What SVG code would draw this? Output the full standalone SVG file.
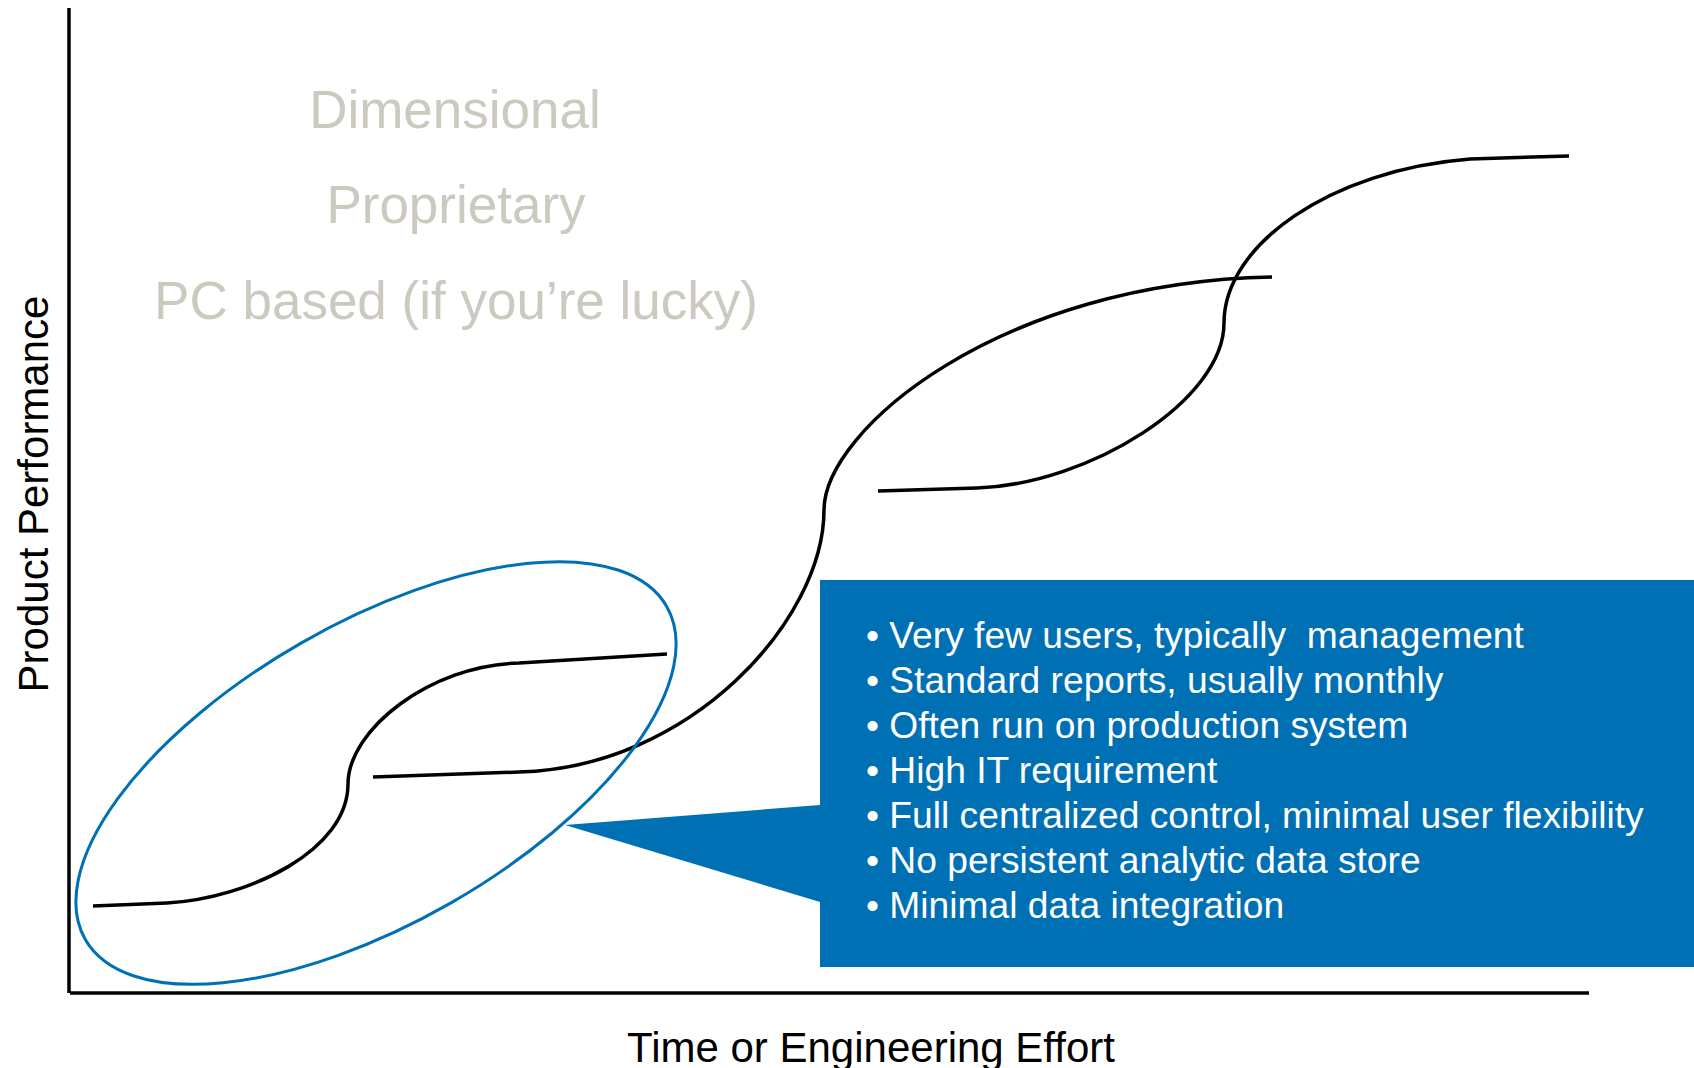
<svg xmlns="http://www.w3.org/2000/svg" width="1694" height="1068" viewBox="0 0 1694 1068">
<style>
.ax{stroke:#000;stroke-width:3.5;fill:none}
.cv{stroke:#000;stroke-width:3.5;fill:none;stroke-linecap:butt}
.gray{font-family:"Liberation Sans",Arial,sans-serif;font-size:53px;fill:#ccc9bf;text-anchor:middle}
.lab{font-family:"Liberation Sans",Arial,sans-serif;font-size:42px;fill:#000;text-anchor:middle}
.bul{font-family:"Liberation Sans",Arial,sans-serif;font-size:37.2px;fill:#fff;white-space:pre}
</style>
<rect width="1694" height="1068" fill="#fff"/>
<g id="axes">
<line class="ax" x1="69" y1="8" x2="69" y2="993"/>
<line class="ax" x1="70" y1="993" x2="1589" y2="993"/>
</g>
<g id="labels">
<text class="gray" x="455" y="128">Dimensional</text>
<text class="gray" x="456" y="223">Proprietary</text>
<text class="gray" x="456" y="319">PC based (if you’re lucky)</text>
<text class="lab" transform="translate(48,494) rotate(-90)" x="0" y="0">Product Performance</text>
<text class="lab" x="871" y="1062">Time or Engineering Effort</text>
</g>
<g id="connectors">
<path id="curveA" class="cv" d="M93,906 L167,903 C250,898 348,850 348,784 C348,730 430,665 519,663 L667,654"/>
<path id="curveB" class="cv" d="M373,777 L519,772 C690,768 824,620 824,510 C824,430 1000,282 1272,277"/>
<path id="curveC" class="cv" d="M878,491 L977,488 C1090,484 1224,400 1224,323 C1224,245 1330,170 1470,159 L1569,156"/>
</g>
<g id="ellipse">
<ellipse cx="376" cy="773" rx="335" ry="150" transform="rotate(-29.8 376 773)" fill="none" stroke="#0070b5" stroke-width="3"/>
</g>
<g id="callout">
<rect x="820" y="580" width="874" height="387" fill="#0070b5"/>
<polygon points="820,805 565,825 820,902" fill="#0070b5"/>
<text class="bul" x="866" y="648">• Very few users, typically  management</text>
<text class="bul" x="866" y="693">• Standard reports, usually monthly</text>
<text class="bul" x="866" y="738">• Often run on production system</text>
<text class="bul" x="866" y="783">• High IT requirement</text>
<text class="bul" x="866" y="828">• Full centralized control, minimal user flexibility</text>
<text class="bul" x="866" y="873">• No persistent analytic data store</text>
<text class="bul" x="866" y="918">• Minimal data integration</text>
</g>
</svg>
